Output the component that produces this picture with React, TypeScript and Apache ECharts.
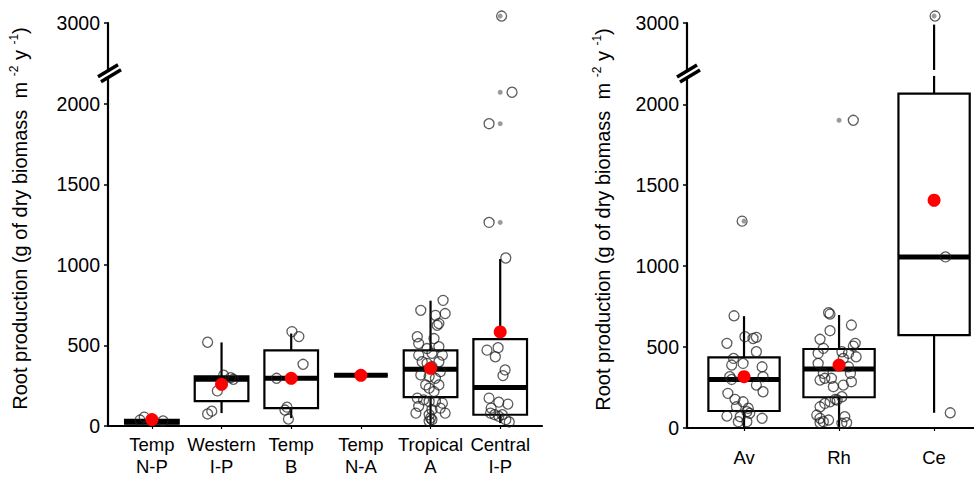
import React, { useEffect, useRef } from 'react';
import * as echarts from 'echarts';

const FONT = '"Liberation Sans", Arial, Helvetica, sans-serif';

const leftCategories = ['Temp\nN-P', 'Western\nI-P', 'Temp\nB', 'Temp\nN-A', 'Tropical\nA', 'Central\nI-P'];
const rightCategories = ['Av', 'Rh', 'Ce'];
const yTicks = [0, 500, 1000, 1500, 2000, 3000];
const yBreak = { start: 2175, end: 2710, gap: 37 };

// box statistics: [low whisker, q1, median, q3, high whisker]
const leftBoxes = [
  [5, 14, 26, 38, 50],
  [80, 154, 290, 309, 519],
  [49, 111, 296, 469, 574],
  [315, 315, 315, 315, 315],
  [6, 179, 352, 469, 778],
  [18, 70, 239, 539, 1037],
];
const rightBoxes = [
  [0, 105, 300, 436, 691],
  [5, 190, 364, 488, 698],
  [94, 574, 1057, 2066, 2990],
];
const leftMeans = [40, 259, 296, 315, 358, 584];
const rightMeans = [317, 389, 1407];
const leftOutliers = [[], [], [], [], [], [3043, 2072, 1877, 1264]];
const rightOutliers = [[1278], [1901], [3043]];

// jittered raw observations: [horizontal offset, value]
const tempNP = [[-0.17, 37], [-0.11, 55], [0.16, 31]];
const westernIP = [[-0.2, 520], [-0.06, 218], [0.03, 315], [0.13, 300], [0.17, 290], [-0.2, 75], [-0.14, 92]];
const tempB = [[0.01, 586], [0.11, 555], [0.17, 383], [-0.21, 296], [-0.06, 117], [-0.09, 99], [-0.04, 43]];
const tempNA = [[0, 315]];
const tropicalA = [
  [0.18, 780], [-0.14, 718], [0.21, 698], [0.07, 687], [0.12, 636], [0.095, 625], [-0.19, 554], [0.05, 543],
  [-0.17, 512], [-0.05, 481], [0.12, 492], [-0.17, 440], [0.02, 451], [0.17, 440], [-0.12, 399], [-0.05, 389],
  [0.12, 399], [0.02, 368], [0.14, 337], [-0.14, 317], [-0.02, 307], [0.07, 296], [-0.07, 255], [0.12, 255],
  [-0.02, 235], [0.05, 214], [-0.19, 173], [-0.1, 162], [-0.02, 152], [0.07, 152], [0.17, 142], [-0.17, 122],
  [0.02, 101], [0.14, 111], [-0.21, 80], [0.21, 80], [-0.02, 70], [0, 49], [0.02, 39], [-0.02, 29],
];
const centralIP = [
  [0.02, 3043], [0.17, 2072], [-0.16, 1877], [-0.16, 1264], [0.08, 1043],
  [-0.19, 471], [-0.03, 486], [-0.07, 430], [0.07, 348], [0.04, 313], [-0.16, 173], [-0.02, 148], [0.11, 136],
  [-0.13, 111], [-0.14, 80], [-0.08, 70], [-0.02, 60], [0.03, 70], [0.08, 39], [0.13, 25],
];
const av = [
  [-0.105, 693], [-0.18, 523], [0.01, 564], [0.095, 553], [0.13, 560], [0.13, 471], [-0.11, 430], [-0.13, 389],
  [-0.01, 399], [0.19, 378], [-0.15, 317], [0.2, 317], [0.2, 224], [-0.17, 214], [-0.095, 177], [-0.01, 162],
  [-0.08, 131], [0.03, 101], [-0.18, 74], [-0.04, 70], [0.19, 60], [-0.06, 39], [0.03, 39], [-0.02, 1278],
  [0.13, 265], [-0.13, 300], [0.045, 122], [0.06, 91],
];
const rh = [
  [-0.11, 712], [-0.095, 704], [0.13, 636], [-0.095, 601], [-0.2, 548], [-0.165, 492], [0.15, 506], [0.17, 523],
  [-0.22, 461], [-0.22, 399], [-0.165, 337], [-0.15, 307], [-0.2, 296], [0.12, 337], [0.13, 286], [-0.06, 255],
  [0.045, 265], [-0.2, 131], [-0.15, 152], [-0.095, 162], [-0.04, 177], [0.03, 193], [-0.235, 80], [-0.2, 60],
  [-0.11, 49], [0.06, 70], [0.08, 33], [-0.2, 33], [0.15, 1901], [0.03, 471], [0.1, 461], [0.18, 440],
  [0.045, 430], [0.1, 378], [-0.08, 307], [0.03, 29], [-0.165, 39], [-0.02, 173],
];
const ce = [[0.01, 3043], [0.12, 1057], [0.17, 94]];

const leftPoints = [tempNP, westernIP, tempB, tempNA, tropicalA, centralIP];
const rightPoints = [av, rh, ce];

const LEFT_BOX_W = 0.77;
const RIGHT_BOX_W = 0.75;

function boxSeries(boxes: number[][], width: number, axisIndex: number) {
  return {
    type: 'custom',
    xAxisIndex: axisIndex,
    yAxisIndex: axisIndex,
    z: 2,
    data: boxes.map((b, i) => [i + 1, ...b]),
    renderItem: (_params: any, api: any) => {
      const x = api.value(0);
      const low = api.value(1), q1 = api.value(2), med = api.value(3), q3 = api.value(4), high = api.value(5);
      const hw = width / 2;
      const bl = api.coord([x - hw, q1]);
      const tr = api.coord([x + hw, q3]);
      const children: any[] = [];
      const seg = (a: number, b: number) => {
        const p1 = api.coord([x, a]);
        const p2 = api.coord([x, b]);
        children.push({ type: 'line', shape: { x1: p1[0], y1: p1[1], x2: p2[0], y2: p2[1] }, style: { stroke: '#000', lineWidth: 2.2 } });
      };
      if (high > yBreak.end && q3 < yBreak.start) {
        seg(q3, yBreak.start);
        seg(yBreak.end, high);
      } else if (high > q3) {
        seg(q3, high);
      }
      if (low < q1) seg(q1, low);
      children.push({
        type: 'rect',
        shape: { x: bl[0], y: tr[1], width: tr[0] - bl[0], height: bl[1] - tr[1] },
        style: { stroke: '#000', lineWidth: 2.2, fill: 'none' },
      });
      const m1 = api.coord([x - hw, med]);
      const m2 = api.coord([x + hw, med]);
      children.push({ type: 'line', shape: { x1: m1[0], y1: m1[1], x2: m2[0], y2: m2[1] }, style: { stroke: '#000', lineWidth: 5 } });
      return { type: 'group', children };
    },
  };
}

function pointSeries(groups: number[][][], axisIndex: number) {
  const data: number[][] = [];
  groups.forEach((g, i) => g.forEach((p) => data.push([i + 1 + p[0], p[1]])));
  return {
    type: 'scatter',
    xAxisIndex: axisIndex,
    yAxisIndex: axisIndex,
    clip: false,
    z: 3,
    symbol: 'circle',
    symbolSize: 10,
    itemStyle: { color: 'rgba(255,255,255,0)', borderColor: 'rgba(30,30,30,0.72)', borderWidth: 1.3, opacity: 1 },
    data,
  };
}

function outlierSeries(groups: number[][], axisIndex: number) {
  const data: number[][] = [];
  groups.forEach((g, i) => g.forEach((v) => data.push([i + 1, v])));
  return {
    type: 'scatter',
    xAxisIndex: axisIndex,
    yAxisIndex: axisIndex,
    clip: false,
    z: 3,
    symbolSize: 5,
    itemStyle: { color: '#9a9a9a', opacity: 1 },
    data,
  };
}

function meanSeries(means: number[], axisIndex: number) {
  return {
    type: 'scatter',
    xAxisIndex: axisIndex,
    yAxisIndex: axisIndex,
    clip: false,
    z: 4,
    symbolSize: 13,
    itemStyle: { color: '#ff0000', opacity: 1 },
    data: means.map((m, i) => [i + 1, m]),
  };
}

function yAxis(gridIndex: number) {
  return {
    type: 'value',
    gridIndex,
    min: 0,
    max: 3000,
    breaks: [{ start: yBreak.start, end: yBreak.end, gap: yBreak.gap }],
    breakArea: { show: false },
    splitLine: { show: false },
    axisLine: { show: true, lineStyle: { color: '#000', width: 2.2 } },
    axisTick: { show: true, length: 4, lineStyle: { color: '#000', width: 1.5 }, customValues: yTicks },
    axisLabel: {
      customValues: yTicks,
      formatter: (v: number) => String(v),
      color: '#000',
      fontSize: 19.5,
      fontFamily: FONT,
      margin: 8,
    },
  };
}

function xAxis(gridIndex: number, cats: string[], min: number, max: number, margin: number) {
  const vals = cats.map((_c, i) => i + 1);
  return {
    type: 'value',
    gridIndex,
    min,
    max,
    splitLine: { show: false },
    axisLine: { show: true, onZero: false, lineStyle: { color: '#000', width: 2.2 } },
    axisTick: { show: true, length: 3, lineStyle: { color: '#000', width: 1.2 }, customValues: vals },
    axisLabel: {
      customValues: vals,
      formatter: (v: number) => cats[Math.round(v) - 1] ?? '',
      color: '#000',
      fontSize: 18.5,
      lineHeight: 22,
      fontFamily: FONT,
      margin,
    },
  };
}

const titleText = '{n|Root production (g of dry biomass  m }{s|-2}{n| y }{s|-1}{n|)}';
const titleRich = {
  n: { fontSize: 20, fontFamily: FONT, lineHeight: 24, fill: '#000' },
  s: { fontSize: 12, fontFamily: FONT, lineHeight: 24, verticalAlign: 'top', fill: '#000' },
};

export default function App() {
  const ref = useRef<HTMLDivElement>(null);
  useEffect(() => {
    if (!ref.current) return;
    const chart = echarts.init(ref.current, undefined, { renderer: 'svg' });
    chart.setOption({
      animation: false,
      textStyle: { fontFamily: FONT },
      grid: [
        { left: 108, right: 432, top: 23, bottom: 49 },
        { left: 687, right: 0, top: 23, bottom: 49 },
      ],
      xAxis: [xAxis(0, leftCategories, 0.37, 6.6, 7), xAxis(1, rightCategories, 0.4, 3.42, 18)],
      yAxis: [yAxis(0), yAxis(1)],
      series: [
        boxSeries(leftBoxes, LEFT_BOX_W, 0),
        pointSeries(leftPoints, 0),
        outlierSeries(leftOutliers, 0),
        meanSeries(leftMeans, 0),
        boxSeries(rightBoxes, RIGHT_BOX_W, 1),
        pointSeries(rightPoints, 1),
        outlierSeries(rightOutliers, 1),
        meanSeries(rightMeans, 1),
      ],
    });

    const graphics: any[] = [];
    [0, 1].forEach((gi) => {
      const xMin = gi === 0 ? 0.37 : 0.4;
      const pS = chart.convertToPixel({ xAxisIndex: gi, yAxisIndex: gi }, [xMin, yBreak.start]) as number[];
      const pE = chart.convertToPixel({ xAxisIndex: gi, yAxisIndex: gi }, [xMin, yBreak.end]) as number[];
      const pB = chart.convertToPixel({ xAxisIndex: gi, yAxisIndex: gi }, [xMin, 0]) as number[];
      const ax = pS[0];
      const mid = (pS[1] + pE[1]) / 2;
      graphics.push({
        type: 'polygon',
        z: 10,
        shape: { points: [[ax - 10, mid + 4], [ax + 10, mid - 8], [ax + 13, mid - 3], [ax - 7, mid + 9]] },
        style: { fill: '#fff' },
      });
      graphics.push({ type: 'line', z: 11, shape: { x1: ax - 10, y1: mid + 4, x2: ax + 10, y2: mid - 8 }, style: { stroke: '#000', lineWidth: 3.5 } });
      graphics.push({ type: 'line', z: 11, shape: { x1: ax - 7, y1: mid + 9, x2: ax + 13, y2: mid - 3 }, style: { stroke: '#000', lineWidth: 3.5 } });
      const top = chart.convertToPixel({ xAxisIndex: gi, yAxisIndex: gi }, [xMin, 3000]) as number[];
      graphics.push({
        type: 'text',
        z: 10,
        x: gi === 0 ? 20 : 603,
        y: (top[1] + pB[1]) / 2 - 6,
        rotation: Math.PI / 2,
        style: { text: titleText, rich: titleRich, align: 'center', verticalAlign: 'middle', fill: '#000' },
      });
    });
    chart.setOption({ graphic: graphics });

    return () => chart.dispose();
  }, []);
  return <div ref={ref} style={{ position: 'fixed', left: 0, top: 0, width: 974, height: 477, background: '#fff' }} />;
}
